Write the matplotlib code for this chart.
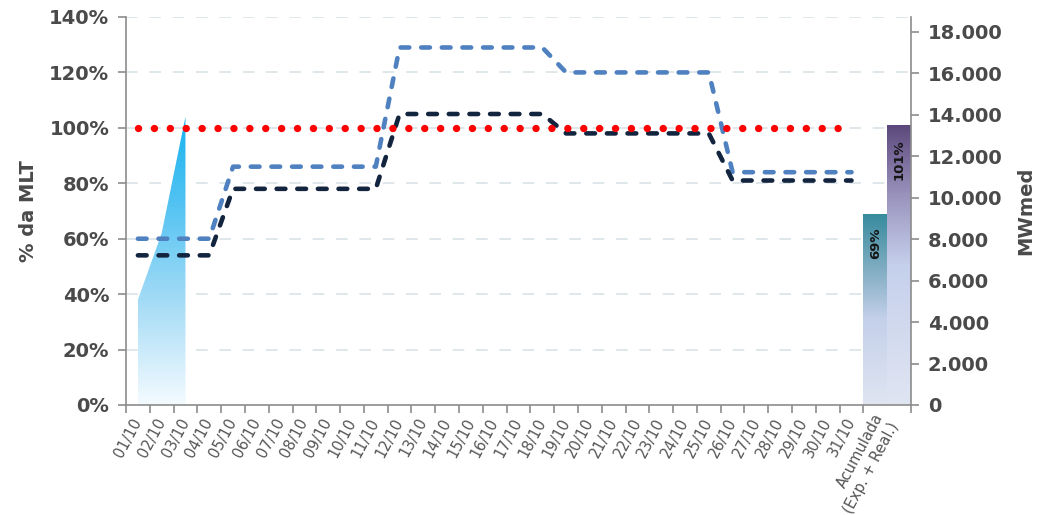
import numpy as np
import matplotlib
matplotlib.use("Agg")
import matplotlib.pyplot as plt
from matplotlib.colors import LinearSegmentedColormap
from matplotlib.patches import Polygon
from matplotlib.ticker import FuncFormatter, FixedLocator

# ---------------- data ----------------
days = [f"{d:02d}/10" for d in range(1, 32)]
acc_label = "Acumulada\n(Exp. + Real.)"

# daily realized % MLT (area, first days)
realized_pct = [38, 62, 104]

# forecast scenarios (% MLT) by day
forecast_light = [60, 60, 60, 60, 86, 86, 86, 86, 86, 86, 86,
                  129, 129, 129, 129, 129, 129, 129,
                  120, 120, 120, 120, 120, 120, 120,
                  84, 84, 84, 84, 84, 84]
forecast_dark = [54, 54, 54, 54, 78, 78, 78, 78, 78, 78, 78,
                 105, 105, 105, 105, 105, 105, 105,
                 98, 98, 98, 98, 98, 98, 98,
                 81, 81, 81, 81, 81, 81]
mlt_ref = [100] * 31

# accumulated bars (MWmed) and their % labels
mlt_mwmed = 13360
acc_values = [9220, 13490]
acc_pct_labels = ["69%", "101%"]

left_ticks = [0, 20, 40, 60, 80, 100, 120, 140]
right_ticks = [0, 2000, 4000, 6000, 8000, 10000, 12000, 14000, 16000, 18000]

# ---------------- figure ----------------
W, H = 1038, 515
fig = plt.figure(figsize=(W / 100, H / 100), dpi=100)
ax = fig.add_axes([126 / W, 1 - 405 / H, (911 - 126) / W, (405 - 17) / H])
ax2 = ax.twinx()

n_cat = len(days) + 2
xlim = (-0.5, n_cat - 0.5)
ax.set_xlim(*xlim)
ax.set_ylim(0, 140)
ax2.set_ylim(0, 1.4 * mlt_mwmed)

tick_color = "#4a4a4a"
axis_color = "#8c8c8c"

# grid (drawn in the lower axes so it stays behind the bars)
for v in left_ticks[1:]:
    ax2.plot(list(xlim), [v, v], transform=ax.transData, color="#dfe7ea",
             lw=1.4, dashes=(6, 6), zorder=0)

# gradient area
xa = np.arange(len(realized_pct))
verts = [(xa[0], 0)] + list(zip(xa, realized_pct)) + [(xa[-1], 0)]
poly = Polygon(verts, closed=True, facecolor="none", edgecolor="none")
ax.add_patch(poly)
area_cmap = LinearSegmentedColormap.from_list(
    "area", [(0.0, "#f4fbff"), (0.35, "#a6dcf6"), (0.7, "#52c3f2"), (1.0, "#18b2ee")])
grad = np.linspace(0, 1, 256).reshape(-1, 1)
im = ax.imshow(grad, cmap=area_cmap, origin="lower", aspect="auto",
               extent=[xa[0], xa[-1], 0, max(realized_pct)], zorder=1)
im.set_clip_path(poly)

# lines
xd = np.arange(len(days))
ax.plot(xd, forecast_light, color="#4f80bf", lw=3.3, dashes=(1.9, 2.6),
        dash_capstyle="round", solid_joinstyle="round", zorder=3)
ax.plot(xd, forecast_dark, color="#13243f", lw=3.3, dashes=(1.9, 2.6),
        dash_capstyle="round", solid_joinstyle="round", zorder=3)
ax.plot(xd, mlt_ref, color="#ff0000", lw=5.3, dashes=(0.01, 2.15),
        dash_capstyle="round", zorder=4)

# gradient bars on right axis
bar_x = [len(days), len(days) + 1]
bar_cmaps = [
    LinearSegmentedColormap.from_list("teal", [(0.0, "#dfe5f1"), (0.45, "#c4d0ea"), (0.65, "#8fb4ca"), (1.0, "#378a9d")]),
    LinearSegmentedColormap.from_list("purp", [(0.0, "#e0e5f2"), (0.5, "#c5d0ec"), (0.75, "#9a93bd"), (1.0, "#5d497d")]),
]
bars = ax2.bar(bar_x, acc_values, width=1.0, color="none", edgecolor="none", zorder=2)
for rect, cm, lab, val, bx in zip(bars, bar_cmaps, acc_pct_labels, acc_values, bar_x):
    imb = ax2.imshow(grad, cmap=cm, origin="lower", aspect="auto",
                     extent=[bx - 0.5, bx + 0.5, 0, val], zorder=2)
    imb.set_clip_path(rect)
    ax2.annotate(lab, xy=(bx, val), xytext=(0, -10), textcoords="offset points",
                 rotation=90, ha="center", va="top", fontsize=9.5,
                 fontweight="bold", color="#151515", zorder=5)
ax.set_xlim(*xlim)
ax2.set_xlim(*xlim)
ax2.set_ylim(0, 1.4 * mlt_mwmed)

# axes styling
for a in (ax, ax2):
    a.spines["top"].set_visible(False)
    for s in ("left", "right", "bottom"):
        a.spines[s].set_color(axis_color)
        a.spines[s].set_linewidth(1.2)
ax.spines["right"].set_visible(False)
ax2.spines["left"].set_visible(False)
ax2.spines["bottom"].set_visible(False)

ax.set_yticks(left_ticks)
ax.yaxis.set_major_formatter(FuncFormatter(lambda v, p: f"{int(v)}%"))
ax.tick_params(axis="y", direction="out", length=6, width=1.2, color=axis_color,
               labelsize=14, labelcolor=tick_color, pad=6)
for t in ax.get_yticklabels():
    t.set_fontweight("bold")

ax2.set_yticks(right_ticks)
ax2.yaxis.set_major_formatter(FuncFormatter(lambda v, p: f"{int(v):,}".replace(",", ".")))
ax2.tick_params(axis="y", direction="out", length=6, width=1.2, color=axis_color,
                labelsize=14, labelcolor=tick_color, pad=6)
for t in ax2.get_yticklabels():
    t.set_fontweight("bold")

# x ticks: boundaries as minor ticks, labels at centers
ax.xaxis.set_minor_locator(FixedLocator(np.arange(-0.5, n_cat, 1.0)))
label_pos = list(range(len(days))) + [len(days) + 0.5]
ax.set_xticks(label_pos)
ax.set_xticklabels(days + [acc_label], rotation=62, ha="right",
                   rotation_mode="anchor", va="center", fontsize=10.5, color="#555555")
ax.tick_params(axis="x", which="major", length=0, pad=10)
ax.tick_params(axis="x", which="minor", direction="out", length=6, width=1.2, color=axis_color)

ax.set_ylabel("% da MLT", fontsize=14, fontweight="bold", color=tick_color, labelpad=8)
ax2.set_ylabel("MWmed", fontsize=14, fontweight="bold", color=tick_color, labelpad=10)

ax.set_zorder(ax2.get_zorder() + 1)
ax.patch.set_visible(False)

fig.savefig("out.png", dpi=100)
